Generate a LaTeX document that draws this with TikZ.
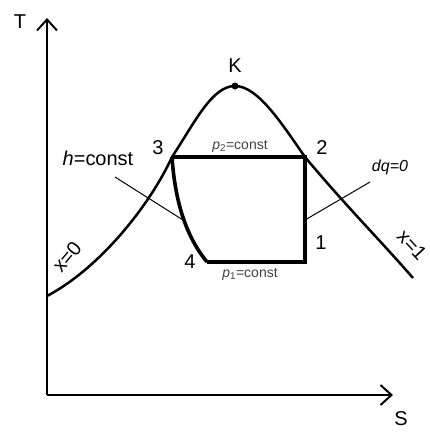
\documentclass[tikz,border=0pt]{standalone}
\usepackage{fontspec}
\setmainfont{Liberation Sans}
\usetikzlibrary{arrows.meta}

\begin{document}
\begin{tikzpicture}[x=1pt,y=-1pt,
  axis/.style={line width=2pt, -{Straight Barb[length=11pt,width=20pt,line width=2pt]}},
  curve/.style={line width=2.5pt, line join=round},
  cyc/.style={line width=3.6pt, line join=miter},
  thinline/.style={line width=1pt},
  lbl/.style={inner sep=0pt, font=\fontsize{20}{24}\selectfont},
  small/.style={inner sep=0pt, font=\fontsize{14}{16}\selectfont, text=black!75}
]
\useasboundingbox (0,0) rectangle (430,432);

\coordinate (O) at (47,395);
\coordinate (Ttop) at (47,18);
\coordinate (Send) at (393,395);
\coordinate (x0) at (47,296);
\coordinate (x1) at (413,278);
\coordinate (p1) at (305,262);
\coordinate (p2) at (305,157);
\coordinate (p3) at (172,157);
\coordinate (p4) at (207,262);
\coordinate (K) at (235,86);
\coordinate (hstart) at (115,177);
\coordinate (hend) at (183,220);
\coordinate (dqa) at (305,220);
\coordinate (dqb) at (370,182);

\draw[axis] (O) -- (Ttop);
\draw[axis] (O) -- (Send);
\node[lbl] (T) at (20,22) {T};
\node[lbl] (S) at (401,419) {S};

\draw[curve] (x0) .. controls (100,268) and (150,205) .. (p3)
  .. controls (195,122) and (212,86) .. (K)
  .. controls (258,86) and (282,124) .. (p2)
  .. controls (345,205) and (380,240) .. (x1);
\fill (K) circle (3.5pt);

\draw[cyc] (p3) -- (p2) -- (p1) -- (p4);
\draw[cyc] (p3) .. controls (175,200) and (185,235) .. (p4);

\draw[thinline] (hstart) -- (hend);
\draw[thinline] (dqa) -- (dqb);

\node[lbl] (lK) at (235,66) {K};
\node[lbl] (l3) at (158,148) {3};
\node[lbl] (l2) at (322,148) {2};
\node[lbl] (l1) at (321,243) {1};
\node[lbl] (l4) at (190,262) {4};
\node[lbl] (lh) at (98,158) {\textit{h}=const};
\node[lbl, font=\fontsize{16}{18}\selectfont\itshape] (ldq) at (390,167) {dq=0};
\node[small] (lp2) at (240,146) {\textit{p}\textsubscript{2}=const};
\node[small] (lp1) at (250,274) {\textit{p}\textsubscript{1}=const};
\node[lbl, rotate=50] (lx0) at (67,257) {x=0};
\node[lbl, rotate=-47] (lx1) at (412,245) {x=1};
\end{tikzpicture}
\end{document}
